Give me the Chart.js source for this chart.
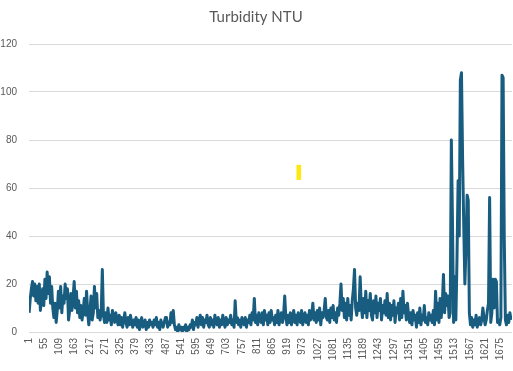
<!DOCTYPE html>
<html lang="en">
<head>
    <meta charset="UTF-8">
    <title>Turbidity NTU</title>
    <script src="https://cdn.jsdelivr.net/npm/chart.js"></script>
    <style>
        body { margin: 0; background: #fff; }
    </style>
</head>
<body>
    <canvas id="turbChart" width="513" height="371"></canvas>
    <script>
        // readings are sampled every 4 records, starting at record 1
        const firstRecord = 1;
        const sampleStep = 4;
        const recordCount = 1716;

        const turbidity = [
            8,14,18,21,15,20,13,19,12,20, 9,14,
            18,11,22,14,25,16,23,12,19, 10,6,12,4,9,
            17,10,19,8,15,12, 20,14,18, 5,9,
            16,9,14,21,10,17, 8,13,6,11,5,9,14,7, 17,8,
            3,9,15,5,8, 19,10,16,6, 9,5,8,26,7,4,
            8,4,10,5,7,3,9,6,4,8,5,3,7,
            3,6,2,5,8,4,2,6,3,7,4,2,5,3,6,
            2,5,1,4,6,2,3,5,1,4,2,5,3,
            4,2,5,3,6,2,4,1,5,3,2,4,6,
            6,2,4,3,8,4,9,
            3,1,2,0,3,1,2,0,2,1,3,0,2,1,
            3,2,5,1,4,3,6,2,5,7,3,6,2,5,4,7,3,
            2,6,3,5,2,7,4,3,6,2,5,3,7,4,2,6,3,5,4,7,3,5,2,
            13,4,6, 3,5,2,6,4,3,6,2,5,
            4,7,3,8,5,14,4,7,3,8,5,
            4,8,3,9,5,7,3,8,4,9,5,6,
            3,7,4,9,3,6,8,4,7, 15,6,
            3,7,4,8,3,6,9,4,7,3,8,5,4,9,3,6,8,4,7,3,9,5,
            7,12,5,8, 4,9,5,10,3,8,6,9, 14,6,
            5,9,4,10,6,11,5,8,4,10,7, 12,20,9,14,
            6,12,5,14,7,11,5,13, 18,26,10, 7,12,9, 23,11,
            6,14,8,17,6,13,9,16,7,
            5,13,8,15,6,12,9,14,5,11,8,13, 7,16,6,12,
            5,11,7,13,4,10,8,12,5,14,6,17,8,11,5,12,7,
            4,8,3,9,5,7,2,8,4,10,3,7,5,11,4,6,3,8,5,7,4,
            9,3,17,5,12,4,14,6,12, 24,8,16,11,15,6,
            8,80,46,4,23,5,
            30,63,40,105,108,72,45,20,35,57,55,8,
            3,6,2,5,3,7,2,4,6,3,5,10,6,3,5,
            9,12,56, 4,8,22,10,22,21,4,5,
            3,6,107,106,39,5,3,7,4,8,5
        ];

        const tickLabels = [1,55,109,163,217,271,325,379,433,487,541,595,649,703,757,811,
            865,919,973,1027,1081,1135,1189,1243,1297,1351,1405,1459,1513,1567,1621,1675];
        const yTicks = [0,20,40,60,80,100,120];

        // small yellow mark in the middle of the plot
        const markRecord = [959];
        const markRange = [[63.5, 69.5]];

        const points = turbidity.map((v, i) => ({ x: firstRecord + i * sampleStep, y: v }));
        const markPoints = markRecord.map((r, i) => ({ x: r, y: markRange[i] }));

        const ctx = document.getElementById('turbChart').getContext('2d');
        const turbChart = new Chart(ctx, {
            type: 'line',
            data: {
                datasets: [
                    {
                        label: 'Turbidity NTU',
                        data: points,
                        borderColor: '#185c7f',
                        borderWidth: 3,
                        borderJoinStyle: 'round',
                        pointRadius: 0,
                        tension: 0,
                        fill: false
                    },
                    {
                        type: 'bar',
                        label: 'mark',
                        data: markPoints,
                        backgroundColor: '#ffe812',
                        barThickness: 4,
                        grouped: false
                    }
                ]
            },
            options: {
                responsive: false,
                animation: false,
                devicePixelRatio: 1,
                layout: { padding: { right: 1 } },
                plugins: {
                    legend: { display: false },
                    tooltip: { enabled: false },
                    title: {
                        display: true,
                        text: 'Turbidity NTU',
                        color: '#595959',
                        font: { family: 'Lato', size: 15, weight: 'normal' },
                        padding: { top: 8, bottom: 18 }
                    }
                },
                scales: {
                    x: {
                        type: 'linear',
                        min: firstRecord - 0.5,
                        max: recordCount + 0.5,
                        offset: false,
                        grid: { display: false, drawTicks: false },
                        border: { display: false },
                        afterBuildTicks: axis => { axis.ticks = tickLabels.map(v => ({ value: v })); },
                        afterFit: axis => {
                            axis.height = 39;
                            axis.paddingLeft = 0;
                            axis.paddingRight = 0;
                        },
                        ticks: {
                            autoSkip: false,
                            minRotation: 90,
                            maxRotation: 90,
                            padding: 6,
                            color: '#595959',
                            font: { family: 'Liberation Sans', size: 10 },
                            callback: v => String(v)
                        }
                    },
                    y: {
                        min: 0,
                        max: 120,
                        grid: { color: '#d9d9d9', drawTicks: false },
                        border: { display: false },
                        afterBuildTicks: axis => { axis.ticks = yTicks.map(v => ({ value: v })); },
                        afterFit: axis => { axis.width = 29; },
                        ticks: {
                            padding: 12,
                            color: '#595959',
                            font: { family: 'Liberation Sans', size: 10 }
                        }
                    }
                }
            }
        });
    </script>
</body>
</html>
